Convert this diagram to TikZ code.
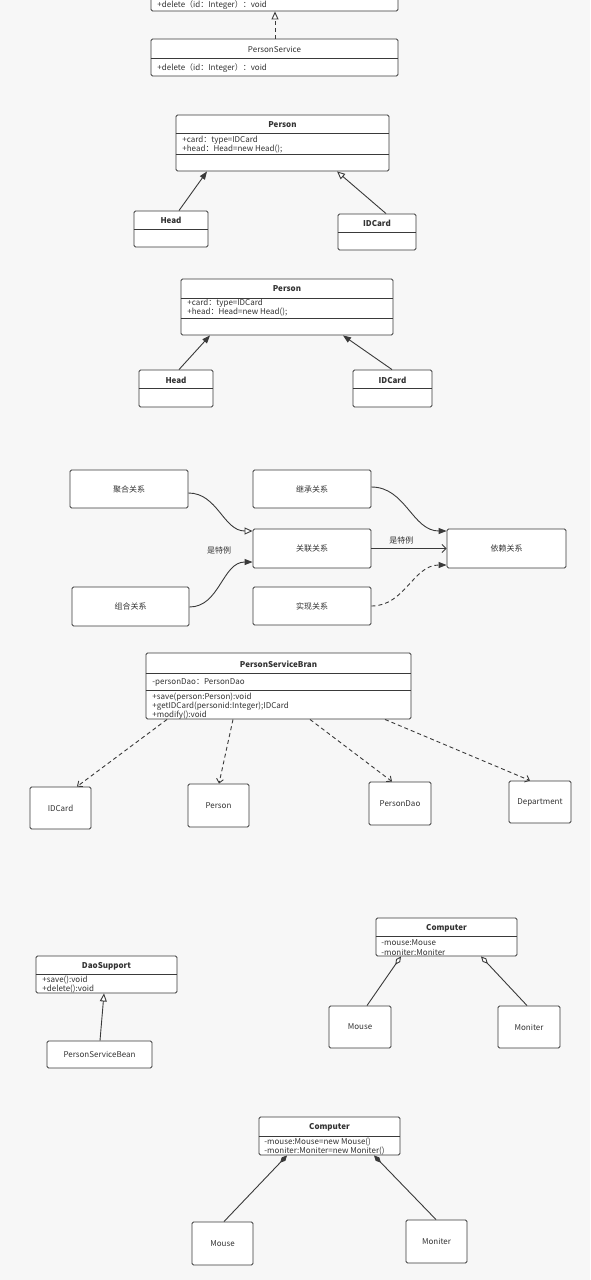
\documentclass[tikz,border=0pt]{standalone}
\usepackage{fontspec}
\setmainfont{Noto Sans CJK SC}
\usepackage{xcolor}
\usepackage{tikz}
\usetikzlibrary{arrows.meta,positioning,calc}
\definecolor{bgc}{HTML}{F7F7F7}
\definecolor{linec}{HTML}{3A3A3A}
\definecolor{txtc}{HTML}{333333}

\begin{document}
\begin{tikzpicture}[x=1pt,y=-1pt,line width=0.9pt,>=Latex]
\tikzstyle{cls}=[draw=linec,fill=white,rounded corners=1.5pt,inner sep=0pt]
\tikzstyle{box}=[cls,font=\fontsize{8}{9}\selectfont,text=txtc]
\tikzstyle{ttl}=[inner sep=0pt,text=txtc,font=\fontsize{8}{9}\selectfont\bfseries]
\tikzstyle{mem}=[inner sep=0pt,anchor=west,text=txtc,font=\fontsize{8}{9}\selectfont]
\tikzstyle{lbl}=[inner sep=0pt,text=txtc,font=\fontsize{8}{9}\selectfont]
\tikzstyle{divline}=[draw=linec]
\tikzstyle{fillarr}=[draw=linec,-{Triangle[length=8pt,width=6pt]}]
\tikzstyle{openarr}=[draw=linec,-{Triangle[open,length=8pt,width=7pt,fill=white]}]
\tikzstyle{deparr}=[draw=linec,dash pattern=on 4pt off 3pt,-{Straight Barb[length=4pt,width=7pt]}]
\tikzstyle{aggarr}=[draw=linec,-{Diamond[open,length=10pt,width=5pt,fill=white]}]
\tikzstyle{comarr}=[draw=linec,-{Diamond[length=10pt,width=5pt]}]
\useasboundingbox (0,0) rectangle (590,1280);
\clip (0,0) rectangle (590,1280);
\fill[bgc] (0,0) rectangle (590,1280);

% service interface + implementation
\node[cls,minimum width=247pt,minimum height=41pt] (svctop) at (274.5,-9.5) {};
\node[mem] (svctopm) at (157,5) {+delete（id：Integer）：void};
\node[cls,minimum width=247pt,minimum height=37pt] (svc) at (274.5,57.5) {};
\node[lbl] (svct) at (274.5,49) {PersonService};
\draw[divline] (svc.west |- 0,58) -- (svc.east |- 0,58);
\node[mem] (svcm) at (157,68) {+delete（id：Integer）：void};
\draw[openarr,dash pattern=on 4pt off 3pt] (svc.north -| 275,0) -- (svctop.south -| 275,0);

% Person 1
\node[cls,minimum width=213pt,minimum height=56pt] (person1) at (282.5,143) {};
\node[ttl] (person1t) at (282.5,125) {Person};
\draw[divline] (person1.west |- 0,133) -- (person1.east |- 0,133);
\node[mem] (person1a) at (182,140) {+card：type=IDCard};
\node[mem] (person1b) at (182,149) {+head：Head=new Head();};
\draw[divline] (person1.west |- 0,154) -- (person1.east |- 0,154);
\node[cls,minimum width=74pt,minimum height=36pt] (head1) at (171,229) {};
\node[ttl] (head1t) at (171,220) {Head};
\draw[divline] (head1.west |- 0,229) -- (head1.east |- 0,229);
\node[cls,minimum width=78pt,minimum height=36pt] (idc1) at (377,232) {};
\node[ttl] (idc1t) at (377,223) {IDCard};
\draw[divline] (idc1.west |- 0,232) -- (idc1.east |- 0,232);
\draw[fillarr] (head1.north -| 179,0) -- (person1.south -| 207,0);
\draw[openarr] (idc1.north -| 386,0) -- (person1.south -| 337,0);

% Person 2
\node[cls,minimum width=212pt,minimum height=56pt] (person2) at (287,307) {};
\node[ttl] (person2t) at (287,289) {Person};
\draw[divline] (person2.west |- 0,298) -- (person2.east |- 0,298);
\node[mem] (person2a) at (187,303) {+card：type=IDCard};
\node[mem] (person2b) at (187,312.5) {+head：Head=new Head();};
\draw[divline] (person2.west |- 0,318) -- (person2.east |- 0,318);
\node[cls,minimum width=74pt,minimum height=37pt] (head2) at (176,388.5) {};
\node[ttl] (head2t) at (176,380) {Head};
\draw[divline] (head2.west |- 0,388) -- (head2.east |- 0,388);
\node[cls,minimum width=79pt,minimum height=37pt] (idc2) at (392.5,388.5) {};
\node[ttl] (idc2t) at (392.5,380) {IDCard};
\draw[divline] (idc2.west |- 0,388) -- (idc2.east |- 0,388);
\draw[fillarr] (head2.north -| 179,0) -- (person2.south -| 210,0);
\draw[fillarr] (idc2.north -| 392,0) -- (person2.south -| 343,0);

% relations overview
\node[box,minimum width=118pt,minimum height=38pt] (juhe) at (129,489) {聚合关系};
\node[box,minimum width=118pt,minimum height=38pt] (jicheng) at (312,489) {继承关系};
\node[box,minimum width=118pt,minimum height=39pt] (guanlian) at (312,548.5) {关联关系};
\node[box,minimum width=119pt,minimum height=39pt] (yilai) at (506.5,548.5) {依赖关系};
\node[box,minimum width=117pt,minimum height=39pt] (zuhe) at (130.5,606.5) {组合关系};
\node[box,minimum width=118pt,minimum height=38pt] (shixian) at (312,606) {实现关系};
\draw[openarr] (juhe.east |- 0,493) to[out=0,in=180] (guanlian.west |- 0,531);
\draw[fillarr] (zuhe.east |- 0,607) to[out=0,in=180] (guanlian.west |- 0,562);
\draw[fillarr] (jicheng.east |- 0,487) to[out=0,in=180] (yilai.west |- 0,531);
\draw[fillarr,dash pattern=on 4pt off 3pt] (shixian.east |- 0,606) to[out=0,in=180] (yilai.west |- 0,565);
\draw[draw=linec,-{Straight Barb[length=4pt,width=8pt]}] (guanlian) -- node[lbl,above=4pt,pos=0.4] (lbl2) {是特例} (yilai);
\node[lbl] (lbl1) at (219,550) {是特例};

% dependencies
\node[cls,minimum width=265pt,minimum height=66pt] (psb) at (278.5,686) {};
\node[ttl] (psbt) at (278.5,664) {PersonServiceBran};
\draw[divline] (psb.west |- 0,673) -- (psb.east |- 0,673);
\node[mem] (psba) at (152,682) {-personDao：PersonDao};
\draw[divline] (psb.west |- 0,690) -- (psb.east |- 0,690);
\node[mem] (psbm1) at (152,697) {+save(person:Person):void};
\node[mem] (psbm2) at (152,706) {+getIDCard(personid:Integer);IDCard};
\node[mem] (psbm3) at (152,715) {+modify():void};
\node[box,minimum width=61pt,minimum height=42pt] (lidc) at (60.5,808) {IDCard};
\node[box,minimum width=61pt,minimum height=43pt] (lper) at (218.5,805.5) {Person};
\node[box,minimum width=62pt,minimum height=43pt] (ldao) at (400,803.5) {PersonDao};
\node[box,minimum width=62pt,minimum height=42pt] (ldept) at (540,802) {Department};
\draw[deparr] (psb.south -| 167,0) -- (lidc.north -| 77,0);
\draw[deparr] (psb.south -| 233,0) -- (lper.north -| 219,0);
\draw[deparr] (psb.south -| 310,0) -- (ldao.north -| 392,0);
\draw[deparr] (psb.south -| 385,0) -- (ldept.north -| 530,0);

% inheritance
\node[cls,minimum width=141pt,minimum height=37pt] (dao) at (106.5,974.5) {};
\node[ttl] (daot) at (106.5,966) {DaoSupport};
\draw[divline] (dao.west |- 0,974) -- (dao.east |- 0,974);
\node[mem] (daom1) at (42,980) {+save():void};
\node[mem] (daom2) at (42,989) {+delete():void};
\node[box,minimum width=105pt,minimum height=27pt] (psbean) at (99.5,1054.5) {PersonServiceBean};
\draw[openarr] (psbean.north -| 100,0) -- (dao.south -| 104,0);

% aggregation
\node[cls,minimum width=141pt,minimum height=38pt] (comp1) at (446.5,937) {};
\node[ttl] (comp1t) at (446.5,928) {Computer};
\draw[divline] (comp1.west |- 0,936) -- (comp1.east |- 0,936);
\node[mem] (comp1a) at (381,943) {-mouse:Mouse};
\node[mem] (comp1b) at (381,952) {-moniter:Moniter};
\node[box,minimum width=62pt,minimum height=42pt] (mouse1) at (360,1027) {Mouse};
\node[box,minimum width=62pt,minimum height=42pt] (mon1) at (529,1027) {Moniter};
\draw[aggarr] (mouse1.north -| 367,0) -- (comp1.south -| 401,0);
\draw[aggarr] (mon1.north -| 527,0) -- (comp1.south -| 481,0);

% composition
\node[cls,minimum width=141pt,minimum height=38pt] (comp2) at (329.5,1136) {};
\node[ttl] (comp2t) at (329.5,1127) {Computer};
\draw[divline] (comp2.west |- 0,1136) -- (comp2.east |- 0,1136);
\node[mem] (comp2a) at (264,1142) {-mouse:Mouse=new Mouse()};
\node[mem] (comp2b) at (264,1151) {-moniter:Moniter=new Moniter()};
\node[box,minimum width=61pt,minimum height=43pt] (mouse2) at (222.5,1243.5) {Mouse};
\node[box,minimum width=61pt,minimum height=43pt] (mon2) at (436.5,1241.5) {Moniter};
\draw[comarr] (mouse2.north -| 224,0) -- (comp2.south -| 287,0);
\draw[comarr] (mon2.north -| 436,0) -- (comp2.south -| 374,0);
\end{tikzpicture}
\end{document}
